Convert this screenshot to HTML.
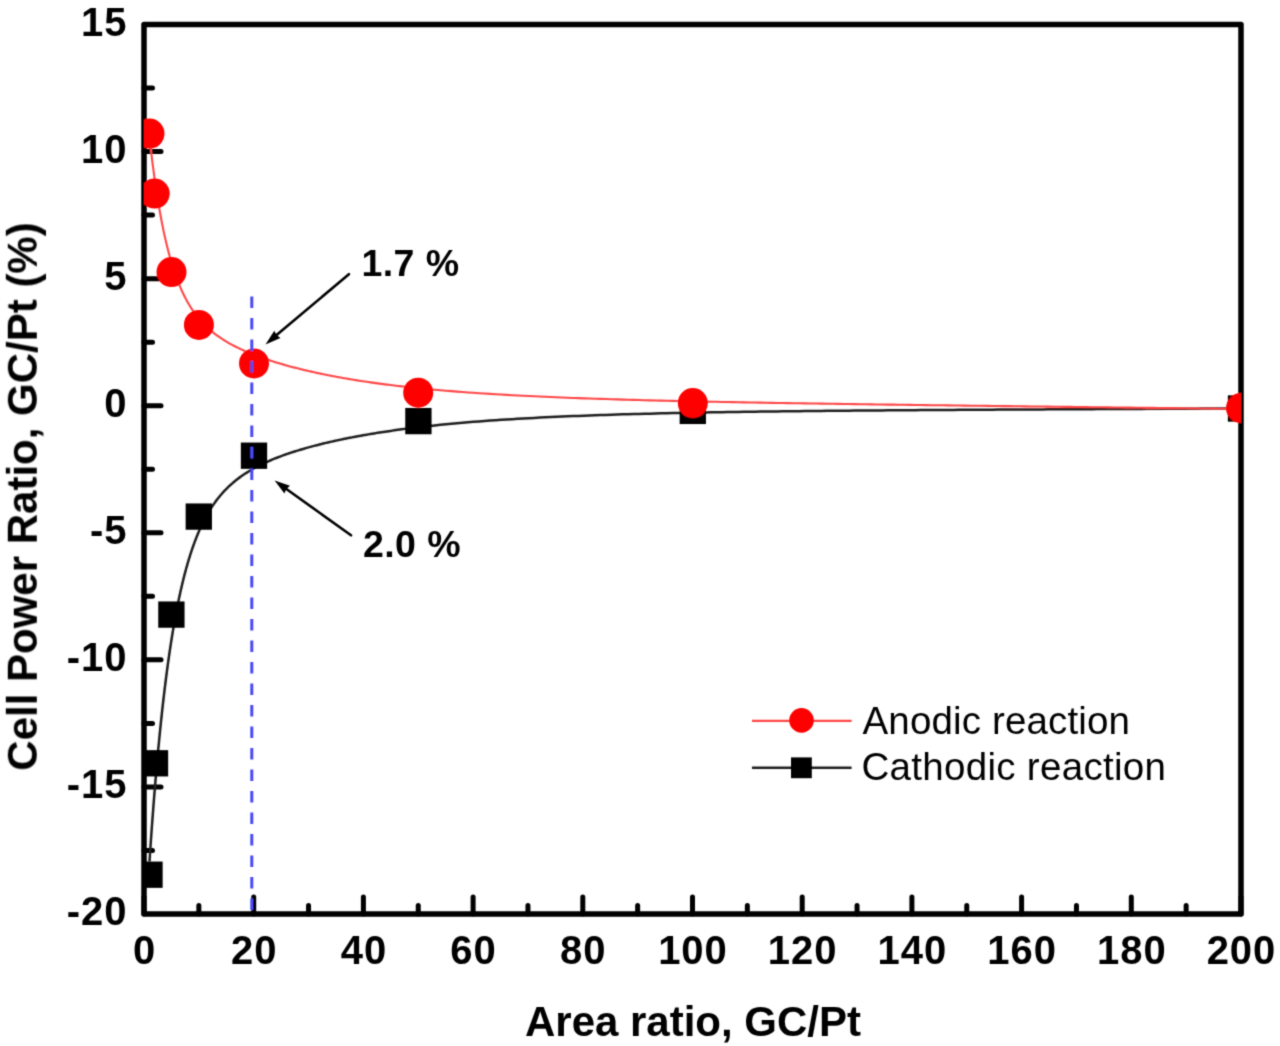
<!DOCTYPE html>
<html><head><meta charset="utf-8"><style>
html,body{margin:0;padding:0;background:#fff;}
svg{display:block;}
text{font-family:"Liberation Sans",sans-serif;}
</style></head><body>
<svg width="1280" height="1046" viewBox="0 0 1280 1046">
<rect width="1280" height="1046" fill="#fff"/>
<defs><filter id="bl" x="-5%" y="-5%" width="110%" height="110%" filterUnits="objectBoundingBox"><feConvolveMatrix order="3" kernelMatrix="0.0276 0.111 0.0276 0.111 0.446 0.111 0.0276 0.111 0.0276" divisor="1" edgeMode="none" preserveAlpha="false"/></filter><clipPath id="pc"><rect x="144" y="24.5" width="1097" height="889.5"/></clipPath></defs>
<g filter="url(#bl)">
<path d="M144.00,914.00 V897.00 M198.85,914.00 V905.50 M253.70,914.00 V897.00 M308.55,914.00 V905.50 M363.40,914.00 V897.00 M418.25,914.00 V905.50 M473.10,914.00 V897.00 M527.95,914.00 V905.50 M582.80,914.00 V897.00 M637.65,914.00 V905.50 M692.50,914.00 V897.00 M747.35,914.00 V905.50 M802.20,914.00 V897.00 M857.05,914.00 V905.50 M911.90,914.00 V897.00 M966.75,914.00 V905.50 M1021.60,914.00 V897.00 M1076.45,914.00 V905.50 M1131.30,914.00 V897.00 M1186.15,914.00 V905.50 M1241.00,914.00 V897.00 M144.00,850.46 H152.50 M144.00,786.93 H161.00 M144.00,723.39 H152.50 M144.00,659.86 H161.00 M144.00,596.32 H152.50 M144.00,532.79 H161.00 M144.00,469.25 H152.50 M144.00,405.71 H161.00 M144.00,342.18 H152.50 M144.00,278.64 H161.00 M144.00,215.11 H152.50 M144.00,151.57 H161.00 M144.00,88.04 H152.50" stroke="#000" stroke-width="5" stroke-linecap="round" fill="none"/>
<rect x="144" y="24.5" width="1097" height="889.5" fill="none" stroke="#000" stroke-width="5.5" stroke-linejoin="round"/>
<g clip-path="url(#pc)">
<path d="M149.49,861.46 L149.90,855.21 L150.31,849.07 L150.73,843.02 L151.14,837.08 L151.56,831.24 L151.97,825.50 L152.39,819.85 L152.80,814.30 L153.22,808.83 L153.63,803.46 L154.05,798.18 L154.46,792.99 L154.88,787.88 L155.29,782.86 L155.71,777.92 L156.12,773.07 L156.54,768.29 L156.95,763.60 L157.37,758.98 L157.78,754.44 L158.20,749.97 L158.61,745.57 L159.03,741.25 L159.44,737.00 L159.86,732.82 L160.27,728.71 L160.69,724.67 L161.10,720.69 L161.52,716.78 L161.93,712.93 L162.34,709.15 L162.76,705.42 L163.17,701.76 L163.59,698.16 L164.00,694.61 L164.42,691.13 L164.83,687.70 L165.25,684.33 L165.66,681.01 L166.08,677.74 L166.49,674.53 L166.91,671.37 L167.32,668.26 L167.74,665.20 L168.15,662.19 L168.57,659.23 L168.98,656.32 L169.40,653.45 L169.81,650.63 L170.23,647.86 L170.64,645.13 L171.06,642.44 L171.47,639.79 L171.89,637.19 L172.30,634.63 L172.72,632.11 L173.13,629.63 L173.55,627.19 L173.96,624.79 L174.37,622.42 L174.79,620.10 L175.20,617.81 L175.62,615.55 L176.03,613.34 L176.45,611.15 L176.86,609.00 L177.28,606.89 L177.69,604.80 L178.11,602.75 L178.52,600.74 L178.94,598.75 L179.35,596.79 L179.77,594.87 L180.18,592.97 L180.60,591.10 L181.01,589.27 L181.43,587.46 L181.84,585.68 L182.26,583.92 L182.67,582.19 L183.09,580.49 L183.50,578.82 L183.92,577.17 L184.33,575.54 L184.75,573.94 L185.16,572.37 L185.58,570.82 L185.99,569.29 L186.41,567.78 L186.82,566.30 L187.23,564.84 L187.65,563.40 L188.06,561.98 L188.48,560.58 L188.89,559.21 L189.31,557.85 L189.72,556.52 L190.14,555.20 L190.55,553.91 L190.97,552.63 L191.38,551.37 L191.80,550.13 L192.21,548.91 L192.63,547.71 L193.04,546.52 L193.46,545.35 L193.87,544.20 L194.29,543.06 L194.70,541.94 L195.12,540.84 L195.53,539.75 L195.95,538.68 L196.36,537.62 L196.78,536.58 L197.19,535.55 L197.61,534.54 L198.02,533.54 L198.44,532.56 L198.85,531.59 L200.69,527.43 L202.54,523.53 L204.38,519.85 L206.22,516.39 L208.07,513.13 L209.91,510.05 L211.76,507.15 L213.60,504.40 L215.44,501.80 L217.29,499.34 L219.13,497.00 L220.97,494.79 L222.82,492.68 L224.66,490.68 L226.51,488.78 L228.35,486.96 L230.19,485.23 L232.04,483.57 L233.88,481.99 L235.72,480.48 L237.57,479.02 L239.41,477.63 L241.26,476.30 L243.10,475.01 L244.94,473.78 L246.79,472.59 L248.63,471.44 L250.47,470.33 L252.32,469.26 L254.16,468.23 L256.00,467.23 L257.85,466.26 L259.69,465.32 L261.54,464.41 L263.38,463.53 L265.22,462.67 L267.07,461.83 L268.91,461.02 L270.75,460.23 L272.60,459.46 L274.44,458.70 L276.29,457.97 L278.13,457.25 L279.97,456.55 L281.82,455.87 L283.66,455.20 L285.50,454.55 L287.35,453.91 L289.19,453.28 L291.03,452.66 L292.88,452.06 L294.72,451.47 L296.57,450.89 L298.41,450.32 L300.25,449.77 L302.10,449.22 L303.94,448.68 L305.78,448.15 L307.63,447.63 L309.47,447.12 L311.32,446.62 L313.16,446.13 L315.00,445.64 L316.85,445.17 L318.69,444.70 L320.53,444.24 L322.38,443.78 L324.22,443.33 L326.07,442.89 L327.91,442.46 L329.75,442.03 L331.60,441.61 L333.44,441.20 L335.28,440.79 L337.13,440.39 L338.97,439.99 L340.81,439.60 L342.66,439.21 L344.50,438.84 L346.35,438.46 L348.19,438.09 L350.03,437.73 L351.88,437.37 L353.72,437.02 L355.56,436.67 L357.41,436.33 L359.25,435.99 L361.10,435.65 L362.94,435.32 L364.78,435.00 L366.63,434.68 L368.47,434.36 L370.31,434.05 L372.16,433.74 L374.00,433.44 L375.84,433.14 L377.69,432.85 L379.53,432.56 L381.38,432.27 L383.22,431.99 L385.06,431.71 L386.91,431.43 L388.75,431.16 L390.59,430.89 L392.44,430.62 L394.28,430.36 L396.13,430.11 L397.97,429.85 L399.81,429.60 L401.66,429.35 L403.50,429.11 L405.34,428.87 L407.19,428.63 L409.03,428.39 L410.88,428.16 L412.72,427.93 L414.56,427.71 L416.41,427.49 L418.25,427.27 L423.77,426.62 L429.29,426.01 L434.82,425.42 L440.34,424.85 L445.86,424.30 L451.38,423.77 L456.90,423.26 L462.42,422.78 L467.95,422.31 L473.47,421.86 L478.99,421.42 L484.51,421.01 L490.03,420.60 L495.56,420.22 L501.08,419.85 L506.60,419.49 L512.12,419.14 L517.64,418.81 L523.16,418.49 L528.69,418.18 L534.21,417.89 L539.73,417.60 L545.25,417.33 L550.77,417.06 L556.30,416.81 L561.82,416.56 L567.34,416.33 L572.86,416.10 L578.38,415.88 L583.90,415.66 L589.43,415.46 L594.95,415.26 L600.47,415.07 L605.99,414.89 L611.51,414.71 L617.04,414.54 L622.56,414.37 L628.08,414.22 L633.60,414.06 L639.12,413.91 L644.64,413.77 L650.17,413.63 L655.69,413.50 L661.21,413.37 L666.73,413.24 L672.25,413.12 L677.78,413.00 L683.30,412.89 L688.82,412.78 L694.34,412.67 L699.86,412.57 L705.38,412.47 L710.91,412.37 L716.43,412.28 L721.95,412.19 L727.47,412.10 L732.99,412.01 L738.52,411.93 L744.04,411.85 L749.56,411.77 L755.08,411.69 L760.60,411.62 L766.12,411.55 L771.65,411.48 L777.17,411.41 L782.69,411.34 L788.21,411.28 L793.73,411.21 L799.26,411.15 L804.78,411.09 L810.30,411.03 L815.82,410.98 L821.34,410.92 L826.86,410.87 L832.39,410.81 L837.91,410.76 L843.43,410.71 L848.95,410.66 L854.47,410.61 L859.99,410.57 L865.52,410.52 L871.04,410.48 L876.56,410.43 L882.08,410.39 L887.60,410.34 L893.13,410.30 L898.65,410.26 L904.17,410.22 L909.69,410.18 L915.21,410.14 L920.73,410.10 L926.26,410.07 L931.78,410.03 L937.30,409.99 L942.82,409.96 L948.34,409.92 L953.87,409.89 L959.39,409.85 L964.91,409.82 L970.43,409.78 L975.95,409.75 L981.47,409.72 L987.00,409.68 L992.52,409.65 L998.04,409.62 L1003.56,409.59 L1009.08,409.56 L1014.61,409.53 L1020.13,409.50 L1025.65,409.47 L1031.17,409.44 L1036.69,409.41 L1042.21,409.38 L1047.74,409.35 L1053.26,409.32 L1058.78,409.29 L1064.30,409.27 L1069.82,409.24 L1075.35,409.21 L1080.87,409.18 L1086.39,409.16 L1091.91,409.13 L1097.43,409.10 L1102.95,409.08 L1108.48,409.05 L1114.00,409.02 L1119.52,409.00 L1125.04,408.97 L1130.56,408.94 L1136.09,408.92 L1141.61,408.89 L1147.13,408.87 L1152.65,408.84 L1158.17,408.82 L1163.69,408.79 L1169.22,408.77 L1174.74,408.74 L1180.26,408.72 L1185.78,408.69 L1191.30,408.67 L1196.83,408.64 L1202.35,408.62 L1207.87,408.59 L1213.39,408.57 L1218.91,408.54 L1224.43,408.52 L1229.96,408.49 L1235.48,408.47 L1241.00,408.45" fill="none" stroke="#1e1e1e" stroke-width="2.5"/>
<path d="M149.49,137.54 L149.90,141.25 L150.31,144.88 L150.73,148.45 L151.14,151.95 L151.56,155.37 L151.97,158.74 L152.39,162.04 L152.80,165.27 L153.22,168.44 L153.63,171.56 L154.05,174.61 L154.46,177.60 L154.88,180.54 L155.29,183.42 L155.71,186.25 L156.12,189.02 L156.54,191.75 L156.95,194.42 L157.37,197.04 L157.78,199.61 L158.20,202.13 L158.61,204.60 L159.03,207.03 L159.44,209.41 L159.86,211.75 L160.27,214.05 L160.69,216.30 L161.10,218.51 L161.52,220.68 L161.93,222.81 L162.34,224.90 L162.76,226.95 L163.17,228.97 L163.59,230.95 L164.00,232.89 L164.42,234.79 L164.83,236.66 L165.25,238.50 L165.66,240.31 L166.08,242.08 L166.49,243.82 L166.91,245.52 L167.32,247.20 L167.74,248.85 L168.15,250.47 L168.57,252.06 L168.98,253.62 L169.40,255.15 L169.81,256.66 L170.23,258.14 L170.64,259.59 L171.06,261.02 L171.47,262.42 L171.89,263.80 L172.30,265.16 L172.72,266.49 L173.13,267.80 L173.55,269.08 L173.96,270.35 L174.37,271.59 L174.79,272.81 L175.20,274.01 L175.62,275.19 L176.03,276.35 L176.45,277.49 L176.86,278.61 L177.28,279.72 L177.69,280.80 L178.11,281.87 L178.52,282.91 L178.94,283.95 L179.35,284.96 L179.77,285.96 L180.18,286.94 L180.60,287.90 L181.01,288.85 L181.43,289.79 L181.84,290.71 L182.26,291.61 L182.67,292.50 L183.09,293.38 L183.50,294.24 L183.92,295.09 L184.33,295.93 L184.75,296.75 L185.16,297.56 L185.58,298.35 L185.99,299.14 L186.41,299.91 L186.82,300.67 L187.23,301.42 L187.65,302.16 L188.06,302.89 L188.48,303.60 L188.89,304.31 L189.31,305.00 L189.72,305.68 L190.14,306.36 L190.55,307.02 L190.97,307.68 L191.38,308.32 L191.80,308.96 L192.21,309.59 L192.63,310.20 L193.04,310.81 L193.46,311.41 L193.87,312.00 L194.29,312.59 L194.70,313.16 L195.12,313.73 L195.53,314.29 L195.95,314.84 L196.36,315.39 L196.78,315.92 L197.19,316.45 L197.61,316.98 L198.02,317.49 L198.44,318.00 L198.85,318.50 L200.69,320.66 L202.54,322.69 L204.38,324.62 L206.22,326.44 L208.07,328.17 L209.91,329.82 L211.76,331.39 L213.60,332.88 L215.44,334.31 L217.29,335.67 L219.13,336.98 L220.97,338.23 L222.82,339.44 L224.66,340.60 L226.51,341.71 L228.35,342.79 L230.19,343.83 L232.04,344.83 L233.88,345.80 L235.72,346.75 L237.57,347.66 L239.41,348.55 L241.26,349.41 L243.10,350.25 L244.94,351.06 L246.79,351.86 L248.63,352.63 L250.47,353.39 L252.32,354.13 L254.16,354.85 L256.00,355.56 L257.85,356.25 L259.69,356.93 L261.54,357.59 L263.38,358.24 L265.22,358.87 L267.07,359.50 L268.91,360.11 L270.75,360.71 L272.60,361.30 L274.44,361.88 L276.29,362.44 L278.13,363.00 L279.97,363.55 L281.82,364.09 L283.66,364.62 L285.50,365.14 L287.35,365.66 L289.19,366.16 L291.03,366.66 L292.88,367.15 L294.72,367.63 L296.57,368.10 L298.41,368.57 L300.25,369.03 L302.10,369.48 L303.94,369.93 L305.78,370.37 L307.63,370.80 L309.47,371.22 L311.32,371.64 L313.16,372.06 L315.00,372.47 L316.85,372.87 L318.69,373.26 L320.53,373.65 L322.38,374.04 L324.22,374.42 L326.07,374.79 L327.91,375.16 L329.75,375.52 L331.60,375.88 L333.44,376.23 L335.28,376.58 L337.13,376.92 L338.97,377.26 L340.81,377.59 L342.66,377.92 L344.50,378.25 L346.35,378.57 L348.19,378.88 L350.03,379.19 L351.88,379.50 L353.72,379.80 L355.56,380.10 L357.41,380.39 L359.25,380.68 L361.10,380.97 L362.94,381.25 L364.78,381.53 L366.63,381.80 L368.47,382.08 L370.31,382.34 L372.16,382.61 L374.00,382.87 L375.84,383.12 L377.69,383.37 L379.53,383.62 L381.38,383.87 L383.22,384.11 L385.06,384.35 L386.91,384.59 L388.75,384.82 L390.59,385.05 L392.44,385.28 L394.28,385.50 L396.13,385.72 L397.97,385.94 L399.81,386.16 L401.66,386.37 L403.50,386.58 L405.34,386.79 L407.19,386.99 L409.03,387.19 L410.88,387.39 L412.72,387.59 L414.56,387.78 L416.41,387.97 L418.25,388.16 L423.77,388.71 L429.29,389.24 L434.82,389.75 L440.34,390.24 L445.86,390.71 L451.38,391.16 L456.90,391.60 L462.42,392.02 L467.95,392.43 L473.47,392.82 L478.99,393.19 L484.51,393.56 L490.03,393.91 L495.56,394.24 L501.08,394.57 L506.60,394.88 L512.12,395.19 L517.64,395.48 L523.16,395.76 L528.69,396.04 L534.21,396.30 L539.73,396.56 L545.25,396.80 L550.77,397.04 L556.30,397.28 L561.82,397.50 L567.34,397.72 L572.86,397.93 L578.38,398.14 L583.90,398.33 L589.43,398.53 L594.95,398.71 L600.47,398.90 L605.99,399.07 L611.51,399.25 L617.04,399.41 L622.56,399.58 L628.08,399.74 L633.60,399.89 L639.12,400.04 L644.64,400.19 L650.17,400.33 L655.69,400.47 L661.21,400.61 L666.73,400.74 L672.25,400.87 L677.78,401.00 L683.30,401.12 L688.82,401.25 L694.34,401.37 L699.86,401.48 L705.38,401.60 L710.91,401.71 L716.43,401.82 L721.95,401.93 L727.47,402.04 L732.99,402.14 L738.52,402.25 L744.04,402.35 L749.56,402.45 L755.08,402.55 L760.60,402.64 L766.12,402.74 L771.65,402.83 L777.17,402.93 L782.69,403.02 L788.21,403.11 L793.73,403.20 L799.26,403.29 L804.78,403.37 L810.30,403.46 L815.82,403.55 L821.34,403.63 L826.86,403.71 L832.39,403.80 L837.91,403.88 L843.43,403.96 L848.95,404.04 L854.47,404.12 L859.99,404.20 L865.52,404.28 L871.04,404.36 L876.56,404.43 L882.08,404.51 L887.60,404.59 L893.13,404.66 L898.65,404.74 L904.17,404.81 L909.69,404.89 L915.21,404.96 L920.73,405.03 L926.26,405.11 L931.78,405.18 L937.30,405.25 L942.82,405.32 L948.34,405.39 L953.87,405.47 L959.39,405.54 L964.91,405.61 L970.43,405.68 L975.95,405.75 L981.47,405.82 L987.00,405.89 L992.52,405.96 L998.04,406.03 L1003.56,406.10 L1009.08,406.17 L1014.61,406.23 L1020.13,406.30 L1025.65,406.37 L1031.17,406.44 L1036.69,406.51 L1042.21,406.57 L1047.74,406.64 L1053.26,406.71 L1058.78,406.78 L1064.30,406.84 L1069.82,406.91 L1075.35,406.98 L1080.87,407.05 L1086.39,407.11 L1091.91,407.18 L1097.43,407.25 L1102.95,407.31 L1108.48,407.38 L1114.00,407.45 L1119.52,407.51 L1125.04,407.58 L1130.56,407.64 L1136.09,407.71 L1141.61,407.78 L1147.13,407.84 L1152.65,407.91 L1158.17,407.97 L1163.69,408.04 L1169.22,408.11 L1174.74,408.17 L1180.26,408.24 L1185.78,408.30 L1191.30,408.37 L1196.83,408.43 L1202.35,408.50 L1207.87,408.56 L1213.39,408.63 L1218.91,408.69 L1224.43,408.76 L1229.96,408.82 L1235.48,408.89 L1241.00,408.96" fill="none" stroke="#ff4646" stroke-width="2.1"/>
<g fill="#000"><rect x="136.35" y="861.55" width="26.30" height="26.30"/><rect x="141.85" y="750.15" width="26.30" height="26.30"/><rect x="158.25" y="601.45" width="26.30" height="26.30"/><rect x="185.65" y="503.45" width="26.30" height="26.30"/><rect x="240.85" y="442.55" width="26.30" height="26.30"/><rect x="405.25" y="407.95" width="26.30" height="26.30"/><rect x="679.65" y="397.75" width="26.30" height="26.30"/><rect x="1227.85" y="395.35" width="26.30" height="26.30"/></g>
<g fill="#ff0000"><circle cx="149.5" cy="133.6" r="15.00"/><circle cx="154.7" cy="193.6" r="15.00"/><circle cx="171.5" cy="272.1" r="15.00"/><circle cx="198.9" cy="324.9" r="15.00"/><circle cx="254.0" cy="363.4" r="15.00"/><circle cx="418.2" cy="392.7" r="15.00"/><circle cx="692.8" cy="403.1" r="15.00"/><circle cx="1241.0" cy="408.1" r="15.00"/></g>
<path d="M251.8,296.5 V914" stroke="#4848f4" stroke-width="3" stroke-dasharray="11.5 10"/>
</g>
<g font-size="40" font-weight="bold" text-anchor="middle" letter-spacing="1"><text x="144.50" y="964">0</text><text x="254.20" y="964">20</text><text x="363.90" y="964">40</text><text x="473.60" y="964">60</text><text x="583.30" y="964">80</text><text x="693.00" y="964">100</text><text x="802.70" y="964">120</text><text x="912.40" y="964">140</text><text x="1022.10" y="964">160</text><text x="1131.80" y="964">180</text><text x="1241.50" y="964">200</text></g>
<g font-size="40" font-weight="bold" text-anchor="end" letter-spacing="1"><text x="127.5" y="925.00">-20</text><text x="127.5" y="797.93">-15</text><text x="127.5" y="670.86">-10</text><text x="127.5" y="543.79">-5</text><text x="127.5" y="416.71">0</text><text x="127.5" y="289.64">5</text><text x="127.5" y="162.57">10</text><text x="127.5" y="35.50">15</text></g>
<text x="693" y="1035.5" font-size="42" font-weight="bold" text-anchor="middle">Area ratio, GC/Pt</text>
<text transform="translate(36.8,496.5) rotate(-90)" font-size="42" font-weight="bold" text-anchor="middle">Cell Power Ratio, GC/Pt (%)</text>
<path d="M348.90,274.20 L276.59,335.06" stroke="#000" stroke-width="2.6" stroke-linecap="round"/><path d="M265.50,344.40 L274.27,330.75 L276.59,335.06 L280.45,338.09 Z" fill="#000"/>
<path d="M351.00,535.30 L286.38,488.95" stroke="#000" stroke-width="2.6" stroke-linecap="round"/><path d="M274.60,480.50 L289.99,485.63 L286.38,488.95 L284.40,493.43 Z" fill="#000"/>
<text x="361.5" y="276.2" font-size="37.5" font-weight="bold" letter-spacing="0.4">1.7 %</text>
<text x="363" y="556.5" font-size="37.5" font-weight="bold" letter-spacing="0.4">2.0 %</text>
<path d="M752,720.9 H851.6" stroke="#ff4646" stroke-width="2.1"/>
<circle cx="801.5" cy="720.4" r="12.3" fill="#ff0000"/>
<path d="M752,767.8 H851.6" stroke="#1e1e1e" stroke-width="2.5"/>
<rect x="791" y="757.4" width="20.8" height="20.8" fill="#000"/>
<text x="862.5" y="733.8" font-size="38.5" letter-spacing="0.15">Anodic reaction</text>
<text x="861.5" y="780.3" font-size="38.5" letter-spacing="0.3">Cathodic reaction</text>
</g>
</svg>
</body></html>
